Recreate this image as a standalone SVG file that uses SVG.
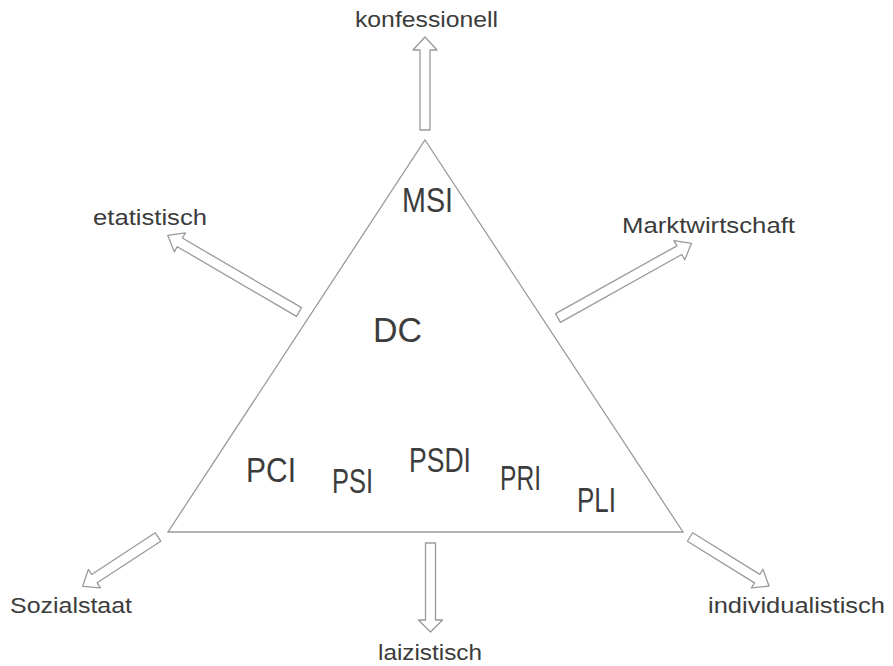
<svg xmlns="http://www.w3.org/2000/svg" width="893" height="666" viewBox="0 0 893 666">
<style>
.tri{fill:none;stroke:#9a9a9a;stroke-width:1.3}
.arr{fill:#fff;stroke:#9a9a9a;stroke-width:1.3;stroke-linejoin:round}
.out{font-family:"Liberation Sans",Arial,sans-serif;font-size:22px;fill:#3c3c3c}
.in{font-family:"Liberation Sans",Arial,sans-serif;font-size:35px;fill:#3c3c3c}
</style>
<rect width="893" height="666" fill="#fff"/>
<g id="triangle"><path class="tri" d="M425,140 L683,532 L168,532 Z"/></g>
<g id="connectors">
<path class="arr" transform="translate(425,130) rotate(-90)" d="M0,-5 H80 V-12 L93,0 L80,12 V5 H0 Z"/>
<path class="arr" transform="translate(299,312) rotate(-149.7)" d="M0,-5 H138 V-11 L152,0 L138,11 V5 H0 Z"/>
<path class="arr" transform="translate(558,318) rotate(-29.2)" d="M0,-5 H139 V-11 L153,0 L139,11 V5 H0 Z"/>
<path class="arr" transform="translate(158,537) rotate(146.8)" d="M0,-5 H76 V-11 L90,0 L76,11 V5 H0 Z"/>
<path class="arr" transform="translate(430.5,543) rotate(90)" d="M0,-5 H77 V-12 L89,0 L77,12 V5 H0 Z"/>
<path class="arr" transform="translate(690,537) rotate(31.8)" d="M0,-5 H79 V-11 L93,0 L79,11 V5 H0 Z"/>
</g>
<g id="n-konfessionell"><text class="out" x="355" y="27" textLength="143" lengthAdjust="spacingAndGlyphs">konfessionell</text></g>
<g id="n-etatistisch"><text class="out" x="93" y="225" textLength="114" lengthAdjust="spacingAndGlyphs">etatistisch</text></g>
<g id="n-marktwirtschaft"><text class="out" x="622" y="233" textLength="173" lengthAdjust="spacingAndGlyphs">Marktwirtschaft</text></g>
<g id="n-sozialstaat"><text class="out" x="10" y="613" textLength="122" lengthAdjust="spacingAndGlyphs">Sozialstaat</text></g>
<g id="n-laizistisch"><text class="out" x="378" y="660" textLength="104" lengthAdjust="spacingAndGlyphs">laizistisch</text></g>
<g id="n-individualistisch"><text class="out" x="708" y="613" textLength="177" lengthAdjust="spacingAndGlyphs">individualistisch</text></g>
<g id="n-MSI"><text class="in" x="402" y="212" textLength="51" lengthAdjust="spacingAndGlyphs">MSI</text></g>
<g id="n-DC"><text class="in" x="373" y="342" textLength="49" lengthAdjust="spacingAndGlyphs">DC</text></g>
<g id="n-PCI"><text class="in" x="246" y="482" textLength="50" lengthAdjust="spacingAndGlyphs">PCI</text></g>
<g id="n-PSI"><text class="in" x="332" y="493" textLength="41" lengthAdjust="spacingAndGlyphs">PSI</text></g>
<g id="n-PSDI"><text class="in" x="409" y="472" textLength="62" lengthAdjust="spacingAndGlyphs">PSDI</text></g>
<g id="n-PRI"><text class="in" x="500" y="490" textLength="41" lengthAdjust="spacingAndGlyphs">PRI</text></g>
<g id="n-PLI"><text class="in" x="577" y="512" textLength="39" lengthAdjust="spacingAndGlyphs">PLI</text></g>
</svg>
